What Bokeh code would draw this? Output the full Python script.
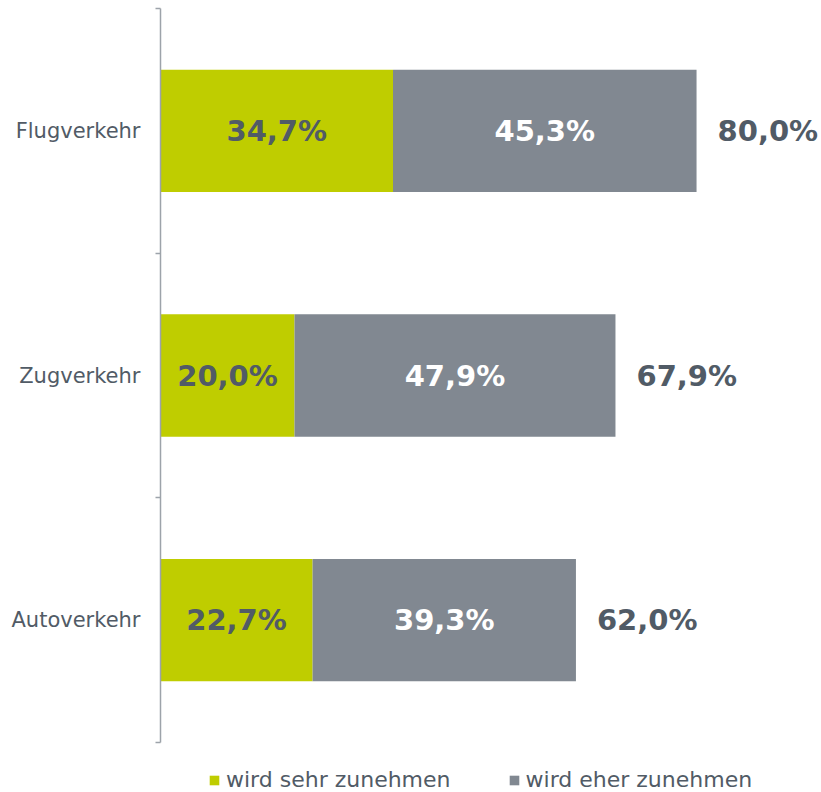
from bokeh.plotting import figure
from bokeh.models import ColumnDataSource, Range1d, FixedTicker, Legend, LegendItem
from bokeh.core.properties import value
from bokeh.embed import file_html
from bokeh.resources import INLINE

categories = ["Flugverkehr", "Zugverkehr", "Autoverkehr"]
sehr = [34.7, 20.0, 22.7]
eher = [45.3, 47.9, 39.3]
totals = [80.0, 67.9, 62.0]
series_names = ["wird sehr zunehmen", "wird eher zunehmen"]

GREEN = "#BFCD00"
GRAY = "#818891"
TEXT = "#515B66"
AXIS = "#9DA3AA"
FONT = "DejaVu Sans"

n = len(categories)
ypos = [n - i - 0.5 for i in range(n)]

def fmt(v):
    return f"{v:.1f}".replace(".", ",") + "%"

src = ColumnDataSource(dict(
    y=ypos,
    sehr=sehr,
    eher_left=sehr,
    eher_right=[a + b for a, b in zip(sehr, eher)],
    sehr_mid=[a / 2 for a in sehr],
    eher_mid=[a + b / 2 for a, b in zip(sehr, eher)],
    tot=totals,
    sehr_lbl=[fmt(v) for v in sehr],
    eher_lbl=[fmt(v) for v in eher],
    tot_lbl=[fmt(v) for v in totals],
))

# plot area: categories occupy 734 px, 50 px extra below for the legend
AREA_PX = 734
LEGEND_PX = 50
y_start = -n * LEGEND_PX / AREA_PX

p = figure(frame_width=658, frame_height=AREA_PX + LEGEND_PX, output_backend="svg", toolbar_location=None,
           x_range=Range1d(0, 98.2), y_range=Range1d(y_start, n),
           min_border_left=160, min_border_right=0, min_border_top=8, min_border_bottom=0)
p.outline_line_color = None
p.grid.visible = False
p.xaxis.visible = False
p.background_fill_color = "white"
p.border_fill_color = "white"

r1 = p.hbar(y="y", left=0, right="sehr", height=0.5, color=GREEN, line_color=None, source=src)
r2 = p.hbar(y="y", left="eher_left", right="eher_right", height=0.5, color=GRAY, line_color=None, source=src)

LBL = "29px"
p.text(x="sehr_mid", y="y", text="sehr_lbl", source=src, text_align="center", text_baseline="middle",
       text_font=value(FONT), text_font_style="bold", text_font_size=LBL, text_color=TEXT)
p.text(x="eher_mid", y="y", text="eher_lbl", source=src, text_align="center", text_baseline="middle",
       text_font=value(FONT), text_font_style="bold", text_font_size=LBL, text_color="white")
p.text(x="tot", y="y", text="tot_lbl", source=src, text_align="left", text_baseline="middle",
       x_offset=21, text_font=value(FONT), text_font_style="bold", text_font_size=LBL, text_color=TEXT)

ax = p.yaxis[0]
ax.bounds = (0, n)
ax.ticker = FixedTicker(ticks=ypos, minor_ticks=list(range(n + 1)))
ax.major_label_overrides = {y: c for y, c in zip(ypos, categories)}
ax.major_tick_out = 0
ax.major_tick_in = 0
ax.minor_tick_out = 5
ax.minor_tick_in = 0
ax.minor_tick_line_color = AXIS
ax.minor_tick_line_width = 1.5
ax.axis_line_color = AXIS
ax.axis_line_width = 1.5
ax.major_label_standoff = 15
ax.major_label_text_font = FONT
ax.major_label_text_font_size = "21px"
ax.major_label_text_color = TEXT

legend = Legend(items=[LegendItem(label=series_names[0], renderers=[r1]),
                       LegendItem(label=series_names[1], renderers=[r2])],
                orientation="horizontal", location=(48, 0),
                glyph_width=12, glyph_height=12, label_standoff=6, spacing=57,
                padding=0, margin=0, border_line_color=None, background_fill_alpha=0,
                label_text_font=FONT, label_text_font_size="22px", label_text_color=TEXT,
                label_height=12)
p.add_layout(legend)

open("out.html", "w").write(file_html(p, INLINE))
